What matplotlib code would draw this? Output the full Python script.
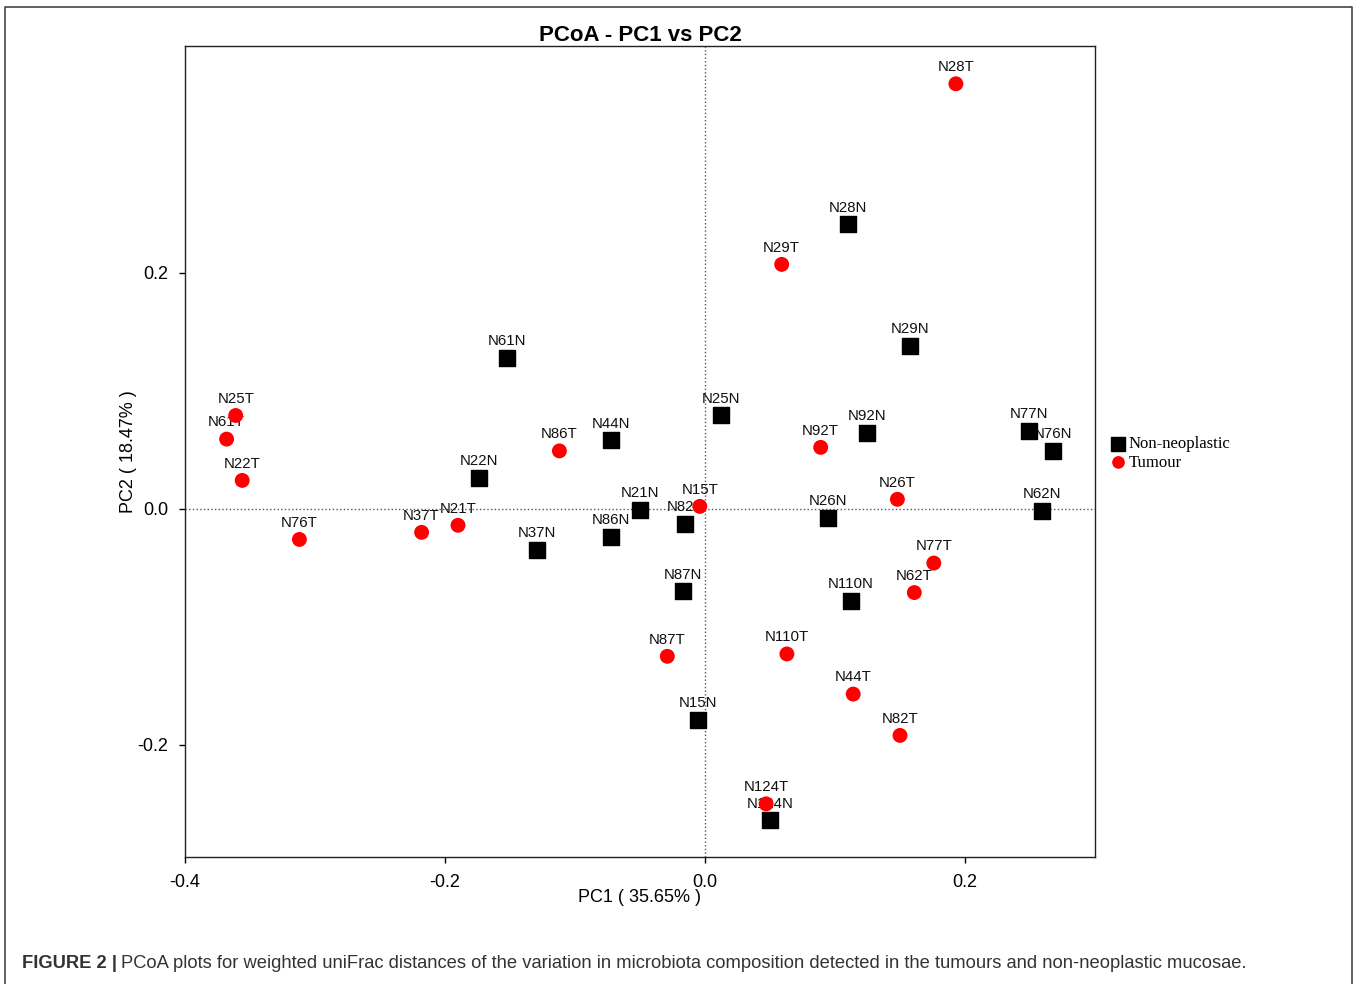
import matplotlib
matplotlib.use('Agg')
import matplotlib.pyplot as plt
from matplotlib.lines import Line2D

# sample coordinates
tumour_names = ['N28T', 'N29T', 'N25T', 'N61T', 'N22T', 'N86T', 'N92T', 'N26T', 'N15T',
                'N76T', 'N37T', 'N21T', 'N77T', 'N62T', 'N87T', 'N110T', 'N44T', 'N82T', 'N124T']
tumour_pc1 = [0.193, 0.059, -0.361, -0.368, -0.356, -0.112, 0.089, 0.148, -0.004,
              -0.312, -0.218, -0.190, 0.176, 0.161, -0.029, 0.063, 0.114, 0.150, 0.047]
tumour_pc2 = [0.360, 0.207, 0.079, 0.059, 0.024, 0.049, 0.052, 0.008, 0.002,
              -0.026, -0.020, -0.014, -0.046, -0.071, -0.125, -0.123, -0.157, -0.192, -0.250]

normal_names = ['N28N', 'N29N', 'N61N', 'N25N', 'N44N', 'N92N', 'N77N', 'N76N', 'N22N', 'N21N',
                'N86N', 'N82N', 'N37N', 'N26N', 'N62N', 'N87N', 'N110N', 'N15N', 'N124N']
normal_pc1 = [0.110, 0.158, -0.152, 0.012, -0.072, 0.125, 0.249, 0.268, -0.174, -0.050,
              -0.072, -0.015, -0.129, 0.095, 0.259, -0.017, 0.112, -0.005, 0.050]
normal_pc2 = [0.241, 0.138, 0.128, 0.079, 0.058, 0.064, 0.066, 0.049, 0.026, -0.001,
              -0.024, -0.013, -0.035, -0.008, -0.002, -0.070, -0.078, -0.179, -0.264]

x_ticks = [-0.4, -0.2, 0.0, 0.2]
y_ticks = [-0.2, 0.0, 0.2]

fig = plt.figure(figsize=(13.6, 9.84), dpi=100)
ax = fig.add_axes([185/1360, 1-857/984, 910/1360, 811/984])

ax.axvline(0, color='#555555', ls=':', lw=1.0, zorder=1)
ax.axhline(0, color='#555555', ls=':', lw=1.0, zorder=1)

ax.scatter(normal_pc1, normal_pc2, marker='s', s=125, c='black', zorder=4, label='Non-neoplastic')
ax.scatter(tumour_pc1, tumour_pc2, marker='o', s=115, c='#ff0000', edgecolors='none', zorder=4, label='Tumour')

for names, xs, ys in [(normal_names, normal_pc1, normal_pc2), (tumour_names, tumour_pc1, tumour_pc2)]:
    for n, x, y in zip(names, xs, ys):
        ax.annotate(n, (x, y), xytext=(0, 7), textcoords='offset points', ha='center', va='bottom',
                    fontsize=10.8, family='Liberation Sans', color='#111111', zorder=3)

ax.set_xlim(-0.4, 0.3)
ax.set_ylim(-0.295, 0.392)
ax.set_xticks(x_ticks)
ax.set_xticklabels(['%.1f' % v for v in x_ticks])
ax.set_yticks(y_ticks)
ax.set_yticklabels(['%.1f' % v for v in y_ticks])
ax.tick_params(direction='out', length=4, width=1, labelsize=13, pad=8)
for lab in ax.get_xticklabels() + ax.get_yticklabels():
    lab.set_family('Liberation Sans')
for sp in ax.spines.values():
    sp.set_linewidth(1.0)
    sp.set_color('#222222')

ax.set_xlabel('PC1 ( 35.65% )', fontsize=13, family='Liberation Sans', labelpad=-1)
ax.set_ylabel('PC2 ( 18.47% )', fontsize=13, family='Liberation Sans', labelpad=0)
ax.set_title('PCoA - PC1 vs PC2', fontsize=16, fontweight='bold',
             family='Liberation Sans', pad=2)

leg = ax.legend(loc='upper left', bbox_to_anchor=(1.013, 0.527), frameon=False,
                handlelength=0.6, handletextpad=0.3, labelspacing=0.15, borderaxespad=0,
                markerscale=0.85, prop={'family': 'Liberation Serif', 'size': 12})

# outer figure frame
fig.add_artist(Line2D([5/1360, 5/1360, 1352/1360, 1352/1360], [0, 1-7/984, 1-7/984, 0],
                      transform=fig.transFigure, color='#444444', lw=1.2))

fig.text(22/1360, 1-964/984, 'FIGURE 2 |', fontsize=13.2, fontweight='bold',
         family='Liberation Sans', color='#333333', va='center')
fig.text(121/1360, 1-964/984,
         'PCoA plots for weighted uniFrac distances of the variation in microbiota composition '
         'detected in the tumours and non-neoplastic mucosae.',
         fontsize=13.2, family='Liberation Sans', color='#333333', va='center')

fig.savefig('out.png', dpi=100)
